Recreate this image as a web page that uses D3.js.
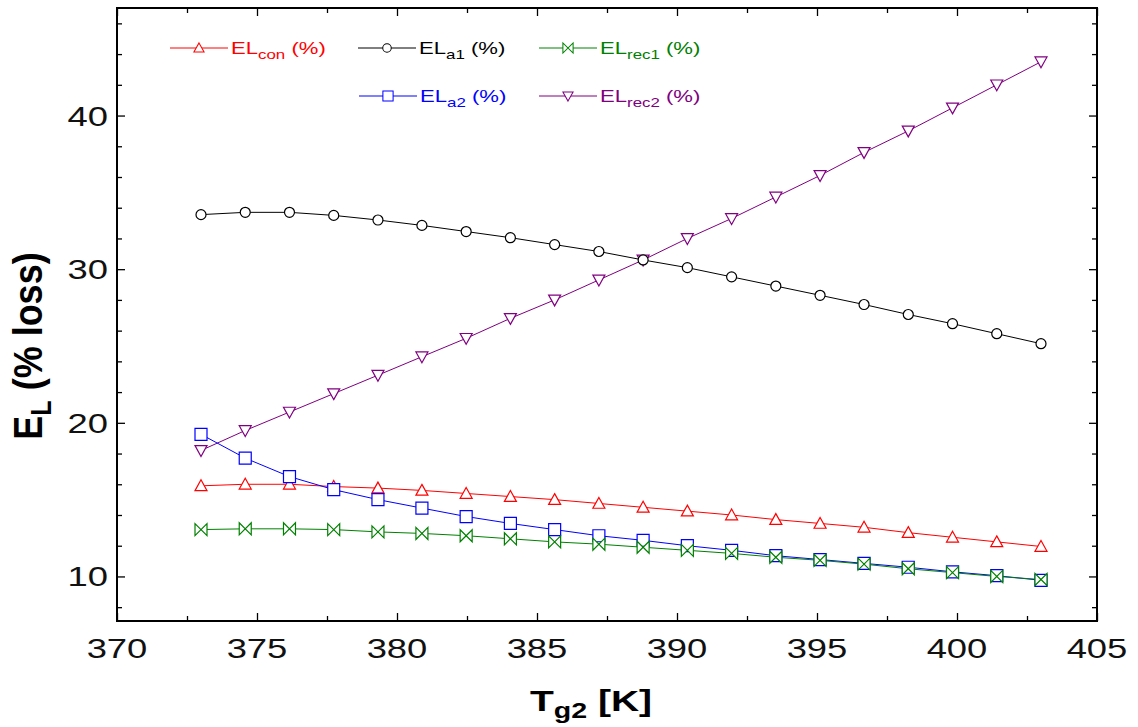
<!DOCTYPE html>
<html>
<head>
<meta charset="utf-8">
<script src="https://cdn.jsdelivr.net/npm/d3@7"></script>
<style>
  body { margin: 0; background: #fff; }
  svg text { font-family: "Liberation Sans", Arial, sans-serif; }
</style>
</head>
<body>
<svg id="chart" width="1138" height="727"></svg>
<script>
// Gas temperature Tg2 [K]
const tg2 = [373.0, 374.58, 376.16, 377.74, 379.32, 380.89, 382.47, 384.05, 385.63, 387.21,
             388.79, 390.37, 391.95, 393.53, 395.11, 396.68, 398.26, 399.84, 401.42, 403.0];

// Exergy loss shares (%)
const elCon  = [15.9, 16.0, 16.0, 15.85, 15.75, 15.6, 15.4, 15.2, 15.0, 14.75,
                14.5, 14.25, 14.0, 13.7, 13.45, 13.2, 12.85, 12.55, 12.25, 11.95];
const elA1   = [33.55, 33.7, 33.7, 33.5, 33.2, 32.85, 32.45, 32.05, 31.6, 31.15,
                30.6, 30.1, 29.5, 28.9, 28.3, 27.7, 27.05, 26.45, 25.8, 25.15];
const elRec1 = [13.05, 13.1, 13.1, 13.05, 12.9, 12.8, 12.65, 12.45, 12.25, 12.1,
                11.9, 11.7, 11.5, 11.25, 11.05, 10.8, 10.5, 10.25, 10.0, 9.8];
const elA2   = [19.25, 17.7, 16.5, 15.65, 15.0, 14.45, 13.9, 13.45, 13.05, 12.65,
                12.35, 12.0, 11.7, 11.35, 11.1, 10.85, 10.6, 10.3, 10.05, 9.75];
const elRec2 = [18.2, 19.5, 20.7, 21.9, 23.1, 24.3, 25.5, 26.8, 28.0, 29.3,
                30.6, 32.0, 33.3, 34.7, 36.1, 37.6, 39.0, 40.5, 42.0, 43.5];

const xTicks = [370, 375, 380, 385, 390, 395, 400, 405];
const yTicks = [10, 20, 30, 40];

const svg = d3.select("#chart");
const plotL = 117, plotR = 1097, plotT = 8, plotB = 621;
const stretch = 1.3; // wide lettering used throughout the figure

const x = d3.scaleLinear().domain([370, 405]).range([plotL, plotR]);
const y = d3.scaleLinear().domain([7.1, 47]).range([plotB, plotT]);

// marker shapes
const S = 6;
const shapes = {
  triUp:   `M0,${-S} L${S},${S*0.8} L${-S},${S*0.8} Z`,
  triDown: `M0,${S} L${S},${-S*0.8} L${-S},${-S*0.8} Z`,
  square:  `M${-S},${-S} L${S},${-S} L${S},${S} L${-S},${S} Z`,
  bowtie:  `M${-S},${-S} L${-S},${S} L${S},${-S} L${S},${S} Z`,
  circle:  d3.symbol(d3.symbolCircle, Math.PI * 25)()
};

const series = [
  { vals: elCon,  color: "#ff0000", shape: "triUp",   name: "EL", sub: "con" },
  { vals: elA1,   color: "#000000", shape: "circle",  name: "EL", sub: "a1" },
  { vals: elRec1, color: "#008000", shape: "bowtie",  name: "EL", sub: "rec1" },
  { vals: elA2,   color: "#0000ff", shape: "square",  name: "EL", sub: "a2" },
  { vals: elRec2, color: "#800080", shape: "triDown", name: "EL", sub: "rec2" }
];

// draw order: keep the green series on top of the blue one
const drawOrder = [4, 1, 0, 3, 2];

const line = d3.line().x((d, i) => x(tg2[i])).y(d => y(d));

drawOrder.forEach(k => {
  const s = series[k];
  const g = svg.append("g");
  g.append("path").datum(s.vals)
    .attr("d", line).attr("fill", "none")
    .attr("stroke", s.color).attr("stroke-width", 1);
  g.selectAll("path.m").data(s.vals).join("path")
    .attr("class", "m")
    .attr("d", shapes[s.shape])
    .attr("transform", (d, i) => `translate(${x(tg2[i])},${y(d)})`)
    .attr("fill", "#fff").attr("stroke", s.color).attr("stroke-width", 1.2);
});

// axes with inward ticks
const fmt = d3.format("d");
const minorX = d3.range(370, 405.01, 2.5).filter(v => v % 5 !== 0);
const minorY = d3.range(8, 47, 2).filter(v => v % 10 !== 0);

// bottom
const gb = svg.append("g").attr("transform", `translate(0,${plotB})`);
gb.call(d3.axisTop(x).tickValues(xTicks).tickSize(8).tickFormat(""));
gb.append("g").call(d3.axisTop(x).tickValues(minorX).tickSize(5).tickFormat(""));
// top
const gt = svg.append("g").attr("transform", `translate(0,${plotT})`);
gt.call(d3.axisBottom(x).tickValues(xTicks).tickSize(8).tickFormat(""));
gt.append("g").call(d3.axisBottom(x).tickValues(minorX).tickSize(5).tickFormat(""));
// left
const gl = svg.append("g").attr("transform", `translate(${plotL},0)`);
gl.call(d3.axisRight(y).tickValues(yTicks).tickSize(8).tickFormat(""));
gl.append("g").call(d3.axisRight(y).tickValues(minorY).tickSize(5).tickFormat(""));
// right
const gr = svg.append("g").attr("transform", `translate(${plotR},0)`);
gr.call(d3.axisLeft(y).tickValues(yTicks).tickSize(8).tickFormat(""));
gr.append("g").call(d3.axisLeft(y).tickValues(minorY).tickSize(5).tickFormat(""));

svg.selectAll(".domain").remove();
svg.selectAll(".tick line").attr("stroke", "#000").attr("stroke-width", 1.3);

// frame
svg.append("rect").attr("x", plotL).attr("y", plotT)
  .attr("width", plotR - plotL).attr("height", plotB - plotT)
  .attr("fill", "none").attr("stroke", "#000").attr("stroke-width", 2);

// tick labels
svg.append("g").selectAll("text").data(xTicks).join("text")
  .attr("transform", d => `translate(${x(d)},658) scale(${stretch},1)`)
  .attr("text-anchor", "middle").attr("font-size", 28).attr("fill", "#111")
  .text(fmt);
svg.append("g").selectAll("text").data(yTicks).join("text")
  .attr("transform", d => `translate(108,${y(d) + 10}) scale(${stretch},1)`)
  .attr("text-anchor", "end").attr("font-size", 28).attr("fill", "#111")
  .text(fmt);

// axis titles
const xt = svg.append("text")
  .attr("transform", `translate(591,711) scale(${stretch},1)`)
  .attr("text-anchor", "middle").attr("font-size", 30).attr("font-weight", "bold");
xt.append("tspan").text("T");
xt.append("tspan").attr("font-size", 22).attr("dy", 7).text("g2");
xt.append("tspan").attr("dy", -7).text(" [K]");

const yt = svg.append("text")
  .attr("transform", "translate(42,346) rotate(-90) scale(1,1.15)")
  .attr("text-anchor", "middle").attr("font-size", 36).attr("font-weight", "bold");
yt.append("tspan").text("E");
yt.append("tspan").attr("font-size", 25).attr("dy", 8).text("L");
yt.append("tspan").attr("dy", -8).text(" (% loss)");

// legend
const legendPos = [
  { k: 0, x0: 170, y0: 48 },
  { k: 1, x0: 358, y0: 48 },
  { k: 2, x0: 539, y0: 48 },
  { k: 3, x0: 359, y0: 96 },
  { k: 4, x0: 539, y0: 96 }
];
legendPos.forEach(p => {
  const s = series[p.k];
  const g = svg.append("g").attr("transform", `translate(${p.x0},${p.y0})`);
  g.append("line").attr("x1", 0).attr("x2", 58).attr("y1", 0).attr("y2", 0)
    .attr("stroke", s.color).attr("stroke-width", 1);
  g.append("path").attr("d", shapes[s.shape]).attr("transform", "translate(29,0) scale(0.85)")
    .attr("fill", "#fff").attr("stroke", s.color).attr("stroke-width", 1.2);
  const t = g.append("text")
    .attr("transform", `translate(61,6) scale(${stretch},1)`)
    .attr("font-size", 17).attr("fill", s.color);
  t.append("tspan").text(s.name);
  t.append("tspan").attr("font-size", 13).attr("dy", 5).text(s.sub);
  t.append("tspan").attr("dy", -5).text(" (%)");
});
</script>
</body>
</html>
